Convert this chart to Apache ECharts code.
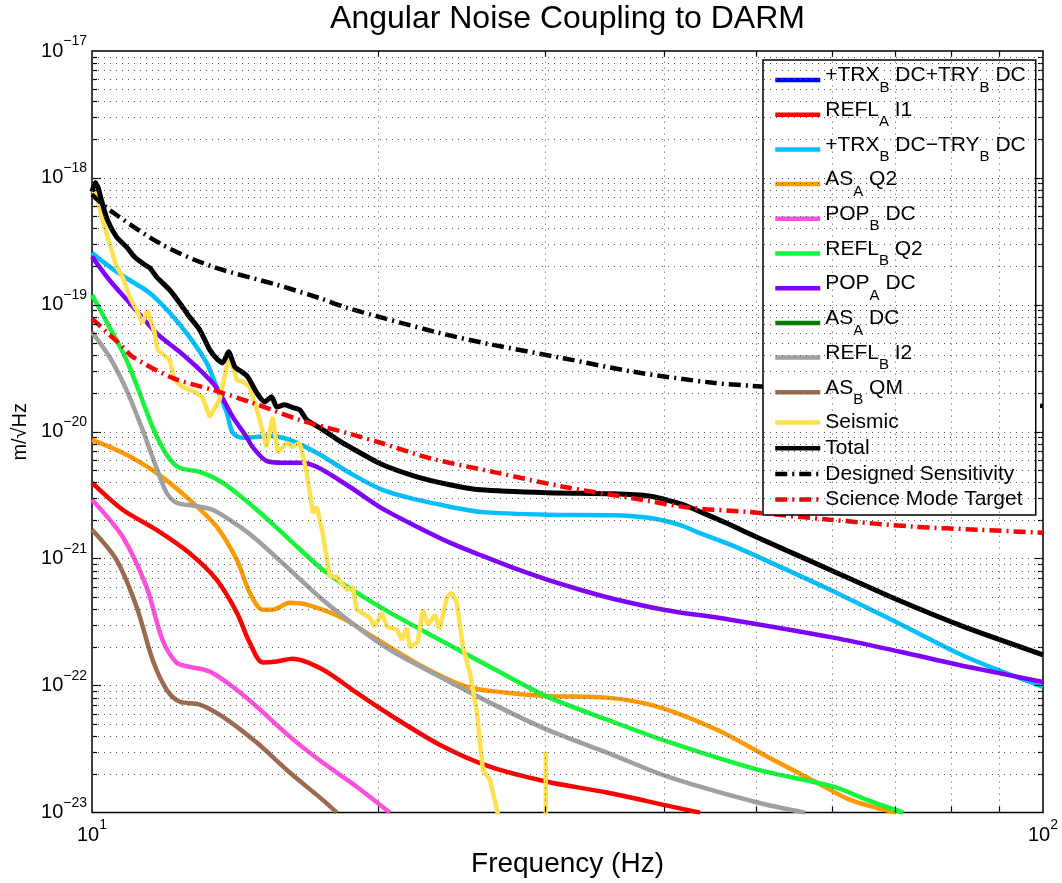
<!DOCTYPE html>
<html><head><meta charset="utf-8">
<script src="https://cdn.jsdelivr.net/npm/echarts@6/dist/echarts.min.js"></script>
<style>html,body{margin:0;padding:0;background:#fff}#chart{width:1062px;height:883px}</style>
</head><body><div id="chart"></div>
<script>
const FONT = '"Liberation Sans", Arial, Helvetica, sans-serif';

// ---- tick labels (decade exponents) ----
const xTickExponents = [1, 2];
const yTickExponents = [-23, -22, -21, -20, -19, -18, -17];
const minorMultipliers = [1, 2, 3, 4, 5, 6, 7, 8, 9];

// ---- series names (legend order) ----
const seriesNames = [
  '+TRX_B DC+TRY_B DC', 'REFL_A I1', '+TRX_B DC\u2212TRY_B DC', 'AS_A Q2', 'POP_B DC',
  'REFL_B Q2', 'POP_A DC', 'AS_A DC', 'REFL_B I2', 'AS_B QM', 'Seismic', 'Total',
  'Designed Sensitivity', 'Science Mode Target'
];

// ---- data: [frequency Hz, m/sqrt(Hz)] ----
const trxPlusTry = [];   // not visible in the plotted range
const asA_DC = [];       // not visible in the plotted range
const reflA_I1 = [[10,3.97e-21],[10.77,2.43e-21],[11.69,1.69e-21],[12.66,1.11e-21],[13.52,6.84e-22],[14.2,3.76e-22],[14.65,2.18e-22],[15.12,1.52e-22],[15.64,1.55e-22],[16.26,1.63e-22],[17.48,1.34e-22],[18.98,8.8e-23],[20.57,5.9e-23],[23.2,3.43e-23],[26.2,2.3e-23],[30.1,1.75e-23],[34.8,1.44e-23],[40.8,1.11e-23],[43.6,1.0e-23]];
const trxMinusTry = [[10,2.57e-19],[10.43,2.0e-19],[10.95,1.57e-19],[11.5,1.24e-19],[12.07,8.65e-20],[12.66,5.6e-20],[13.2,3.49e-20],[13.52,2.26e-20],[13.86,1.41e-20],[14.06,9.8e-21],[14.4,8.97e-21],[14.9,9.1e-21],[15.26,9.3e-21],[16.14,8.65e-21],[17.23,6.84e-21],[18.66,4.75e-21],[20.2,3.49e-21],[21.96,2.92e-21],[23.78,2.57e-21],[25.6,2.34e-21],[30.1,2.22e-21],[35.3,2.2e-21],[38.5,2.1e-21],[41.5,1.85e-21],[43.3,1.62e-21],[46.9,1.29e-21],[50.1,1.04e-21],[59.7,5.7e-22],[70.3,3.13e-22],[82.9,1.69e-22],[100,9.8e-23]];
const asA_Q2 = [[10,8.65e-21],[10.77,6.84e-21],[11.69,4.75e-21],[12.66,2.92e-21],[13.52,1.79e-21],[14.2,9.8e-22],[14.65,5.4e-22],[15.12,3.97e-22],[15.49,3.97e-22],[16.14,4.5e-22],[16.82,4.35e-22],[18.22,3.49e-22],[19.74,2.43e-22],[22.28,1.41e-22],[24.79,9.8e-23],[27.3,8.8e-23],[30.1,8.3e-23],[34.8,8.05e-23],[39.3,6.84e-23],[45.4,4.5e-23],[51.3,2.76e-23],[57.9,1.72e-23],[62.7,1.26e-23],[70.1,1.0e-23]];
const popB_DC = [[10,2.92e-21],[10.77,1.49e-21],[11.41,6.0e-22],[11.86,2.3e-22],[12.27,1.52e-22],[12.66,1.41e-22],[13.3,1.29e-22],[14.06,9.8e-23],[14.9,6.84e-23],[16.14,3.97e-23],[17.48,2.48e-23],[18.98,1.6e-23],[20.57,1.0e-23]];
const reflB_Q2 = [[10,1.2e-19],[10.43,6.7e-20],[10.87,3.69e-20],[11.22,2.03e-20],[11.58,1.09e-20],[11.98,6.6e-21],[12.36,5.2e-21],[12.98,4.84e-21],[13.72,3.97e-21],[14.9,2.43e-21],[16.14,1.41e-21],[17.48,8.2e-22],[18.98,5.4e-22],[20.57,3.76e-22],[23.2,2.3e-22],[26.2,1.41e-22],[30.1,8.2e-23],[34.8,5.4e-23],[40.3,3.62e-23],[50.1,2.18e-23],[60.2,1.6e-23],[65.3,1.26e-23],[71.3,1.0e-23]];
const popA_DC = [[10,2.4e-19],[10.43,1.57e-19],[10.95,1.04e-19],[11.69,6.0e-20],[12.36,4.27e-20],[12.98,3.08e-20],[13.52,2.22e-20],[14.06,1.31e-20],[14.54,9.1e-21],[14.75,7.6e-21],[15.26,5.9e-21],[15.87,5.7e-21],[16.54,5.7e-21],[17.23,5.3e-21],[18.66,3.69e-21],[20.2,2.48e-21],[21.96,1.79e-21],[23.78,1.34e-21],[25.6,1.07e-21],[27.7,8.5e-22],[30.1,6.84e-22],[32.6,5.7e-22],[35.3,4.84e-22],[39.9,3.97e-22],[46.9,3.31e-22],[60.2,2.39e-22],[70.8,1.85e-22],[83.3,1.41e-22],[100,1.07e-22]];
const reflB_I2 = [[10,6.1e-20],[10.43,3.9e-20],[10.87,2.14e-20],[11.3,1.04e-20],[11.69,5.2e-21],[11.98,3.31e-21],[12.27,2.76e-21],[12.82,2.61e-21],[13.39,2.43e-21],[14.3,1.79e-21],[14.9,1.41e-21],[16.14,8.2e-22],[17.48,4.75e-22],[18.98,2.92e-22],[20.57,1.92e-22],[23.2,1.18e-22],[26.2,7.35e-23],[30.1,4.5e-23],[34.8,2.97e-23],[40.3,1.92e-23],[50.1,1.2e-23],[56.2,1.0e-23]];
const asB_QM = [[10,1.69e-21],[10.61,9.8e-22],[11.14,4.19e-22],[11.58,1.6e-22],[11.98,9.3e-23],[12.36,7.5e-23],[12.98,7.1e-23],[13.72,5.7e-23],[14.9,3.56e-23],[16.14,2.07e-23],[17.48,1.26e-23],[18.09,1.0e-23]];
const seismic = [[10,8.05e-19],[10.1,7.6e-19],[10.26,4.67e-19],[10.43,3.08e-19],[10.61,2.0e-19],[10.77,1.66e-19],[10.95,1.16e-19],[11.14,9.1e-20],[11.3,7.2e-20],[11.44,9.1e-20],[11.64,6.0e-20],[11.72,4.42e-20],[12.07,3.69e-20],[12.21,2.57e-20],[12.45,2.26e-20],[12.88,2.03e-20],[13.07,1.85e-20],[13.3,1.31e-20],[13.62,1.79e-20],[13.94,4.0e-20],[14.2,2.57e-20],[14.4,2.48e-20],[14.65,2.26e-20],[15.01,1.24e-20],[15.26,7.6e-21],[15.49,1.31e-20],[15.68,6.84e-21],[16.02,8.2e-21],[16.26,7.6e-21],[16.54,8.2e-21],[16.82,4.75e-21],[17.07,2.3e-21],[17.23,2.57e-21],[17.48,1.6e-21],[17.78,7.2e-22],[18.09,7.2e-22],[18.53,5.7e-22],[18.8,6.0e-22],[18.98,3.97e-22],[19.59,3.43e-22],[19.83,2.92e-22],[20.17,3.76e-22],[20.42,2.92e-22],[20.92,2.76e-22],[21.18,2.3e-22],[21.43,2.86e-22],[21.59,2.0e-22],[22.01,2.22e-22],[22.28,3.97e-22],[22.56,3.02e-22],[22.94,3.62e-22],[23.2,2.76e-22],[23.62,5.0e-22],[23.9,5.4e-22],[24.19,4.5e-22],[24.55,2.03e-22],[24.97,1.26e-22],[25.4,6.1e-23],[25.76,2.18e-23],[26.2,1.82e-23],[26.7,1.0e-23],[26.9,6e-24],[27,null],[30.0,5e-24],[30.0,3.0e-23]];
const total = [[10,7.8e-19],[10.08,9.2e-19],[10.15,8.4e-19],[10.23,6.7e-19],[10.38,4.67e-19],[10.61,3.43e-19],[10.87,2.86e-19],[11.08,2.39e-19],[11.36,2.07e-19],[11.5,1.96e-19],[11.69,1.66e-19],[12.07,1.31e-19],[12.36,1.04e-19],[12.66,8.05e-20],[12.98,6.36e-20],[13.3,4.42e-20],[13.56,3.69e-20],[13.72,3.49e-20],[13.92,4.27e-20],[14.13,3.25e-20],[14.37,2.97e-20],[14.58,2.71e-20],[14.9,2.03e-20],[15.19,1.72e-20],[15.45,1.89e-20],[15.64,1.57e-20],[15.94,1.63e-20],[16.26,1.55e-20],[16.54,1.49e-20],[16.82,1.24e-20],[17.48,1.04e-20],[18.13,8.65e-21],[18.66,7.6e-21],[20.1,5.6e-21],[21.96,4.42e-21],[23.78,3.83e-21],[25.6,3.49e-21],[30.1,3.31e-21],[35.3,3.25e-21],[38.5,3.12e-21],[41.6,2.7e-21],[43.3,2.4e-21],[46.9,1.85e-21],[50.1,1.47e-21],[59.7,8.2e-22],[70.3,4.75e-22],[82.5,2.92e-22],[100,1.75e-22]];
const designedSensitivity = [[10,7.4e-19],[10.43,5.6e-19],[11.86,2.97e-19],[13.39,2.0e-19],[15.64,1.44e-19],[17.36,1.13e-19],[18.53,9.5e-20],[23.2,6.0e-20],[26.2,4.9e-20],[31.3,3.8e-20],[37.1,2.97e-20],[45.0,2.43e-20],[49.5,2.3e-20],[60,2.05e-20],[80,1.75e-20],[100,1.6e-20]];
const scienceModeTarget = [[10,7.8e-20],[10.77,4.67e-20],[11.03,3.9e-20],[12.15,2.66e-20],[13.39,2.14e-20],[14.75,1.69e-20],[16.54,1.24e-20],[18.8,9.5e-21],[20.1,8.2e-21],[22.66,6.2e-21],[26.7,4.75e-21],[31.3,3.69e-21],[36.8,3.02e-21],[42.6,2.52e-21],[48.9,2.34e-21],[59.7,2.03e-21],[73.1,1.79e-21],[85.9,1.69e-21],[100,1.6e-21]];

const seriesData = [trxPlusTry, reflA_I1, trxMinusTry, asA_Q2, popB_DC, reflB_Q2, popA_DC, asA_DC, reflB_I2, asB_QM, seismic, total, designedSensitivity, scienceModeTarget];
const seriesColors = ['#0000FF', '#FF0000', '#00BFFF', '#FF9900', '#FF4FDC', '#14F53C', '#7F00FF', '#007F00', '#A0A0A0', '#9C6A4E', '#FFE04F', '#000000', '#000000', '#FF0000'];

// ECharts' log scale rounds tick values to 10 decimals, so the y values are
// plotted in units of 1e-23 (labels are converted back to the true exponent).
const Y_UNIT_EXP = yTickExponents[0];
const Y_UNIT = Math.pow(10, Y_UNIT_EXP);
const toPlot = d => d.map(p => [p[0], p[1] == null ? null : p[1] / Y_UNIT]);

// ---- layout constants ----
const GRID = {left: 92, top: 51, width: 951, height: 762};
const X_MIN = Math.pow(10, xTickExponents[0]), X_MAX = Math.pow(10, xTickExponents[xTickExponents.length - 1]);
const Y_MIN = 1, Y_MAX = Math.pow(10, yTickExponents[yTickExponents.length - 1] - Y_UNIT_EXP);
const pxPerDecX = GRID.width / (xTickExponents[xTickExponents.length - 1] - xTickExponents[0]);
const pxPerDecY = GRID.height / (yTickExponents[yTickExponents.length - 1] - yTickExponents[0]);

// grid line values (plot units)
const yGridVals = [];
for (let i = 0; i < yTickExponents.length - 1; i++) {
  for (const m of minorMultipliers) {
    if (i === 0 && m === 1) continue;
    yGridVals.push({v: m * Math.pow(10, yTickExponents[i] - Y_UNIT_EXP), major: m === 1});
  }
}
const xGridVals = [];
for (let i = 0; i < xTickExponents.length - 1; i++) {
  for (const m of minorMultipliers) {
    if (m === 1) continue;
    xGridVals.push({v: m * Math.pow(10, xTickExponents[i]), major: false});
  }
}
const gridLineData = yGridVals.map(g => ({yAxis: g.v})).concat(xGridVals.map(g => ({xAxis: g.v})));
const tickData = [];
const xl = X_MIN * 1.000001, xr = X_MAX * 0.999999, yb = Y_MIN * 1.000001, yt = Y_MAX * 0.999999;
yGridVals.forEach(g => {
  const len = g.major ? 9 : 5;
  const f = Math.pow(10, len / pxPerDecX);
  tickData.push([{coord: [xl, g.v]}, {coord: [xl * f, g.v]}]);
  tickData.push([{coord: [xr, g.v]}, {coord: [xr / f, g.v]}]);
});
xGridVals.forEach(g => {
  const len = 6;
  const f = Math.pow(10, len / pxPerDecY);
  tickData.push([{coord: [g.v, yb]}, {coord: [g.v, yb * f]}]);
  tickData.push([{coord: [g.v, yt]}, {coord: [g.v, yt / f]}]);
});

function expText(e) { return '{b|10}{s|' + (e < 0 ? '\u2212' + (-e) : String(e)) + '}'; }
function xLabel(value) { return expText(Math.round(Math.log10(value))); }
function yLabel(value) { return expText(Math.round(Math.log10(value)) + Y_UNIT_EXP); }
function legendLabel(name) {
  return '{b|' + name.replace(/_(\w)/g, '}{s|$1}{b|') + '}';
}

const series = seriesNames.map((name, i) => {
  const s = {
    name: name, type: 'line', data: toPlot(seriesData[i]),
    symbol: 'none', showSymbol: false, smooth: 0.3, connectNulls: false,
    lineStyle: {color: seriesColors[i], width: 4.5},
    itemStyle: {color: seriesColors[i]},
    emphasis: {disabled: true}, z: 2, clip: true
  };
  if (name === 'Seismic') s.smooth = false;
  if (name === 'Total') { s.smooth = 0.2; s.lineStyle.width = 5; }
  if (name === 'Designed Sensitivity' || name === 'Science Mode Target') {
    s.lineStyle.type = [12, 5, 2, 5];
  }
  return s;
});
series.unshift({
  name: '__grid', type: 'line', data: [], z: 1, silent: true,
  markLine: {silent: true, symbol: ['none', 'none'], label: {show: false}, animation: false,
    lineStyle: {color: '#555', width: 1, type: [1, 5]}, emphasis: {disabled: true}, data: gridLineData}
});
series.unshift({
  name: '__ticks', type: 'line', data: [], z: 3, silent: true,
  markLine: {silent: true, symbol: ['none', 'none'], label: {show: false}, animation: false,
    lineStyle: {color: '#000', width: 1.2, type: 'solid'}, emphasis: {disabled: true}, data: tickData}
});

const labelRich = {
  b: {fontFamily: FONT, fontSize: 20, color: '#000'},
  s: {fontFamily: FONT, fontSize: 14, color: '#000', padding: [0, 0, 19, 0]}
};

const chart = echarts.init(document.getElementById('chart'), null, {renderer: 'canvas'});
chart.setOption({
  animation: false,
  backgroundColor: '#fff',
  title: {
    text: 'Angular Noise Coupling to DARM', left: GRID.left + GRID.width / 2, top: 3, textAlign: 'center', padding: 0,
    textStyle: {fontFamily: FONT, fontSize: 32, fontWeight: 'normal', color: '#000'}
  },
  grid: {left: GRID.left, top: GRID.top, width: GRID.width, height: GRID.height, show: true,
    borderColor: '#000', borderWidth: 1.5, backgroundColor: 'transparent', containLabel: false},
  xAxis: {
    type: 'log', logBase: 10, min: X_MIN, max: X_MAX,
    name: 'Frequency (Hz)', nameLocation: 'middle', nameGap: 33,
    nameTextStyle: {fontFamily: FONT, fontSize: 28, color: '#000'},
    axisLine: {show: false}, axisTick: {show: false}, splitLine: {show: false}, minorTick: {show: false},
    axisLabel: {margin: 6, color: '#000', formatter: xLabel, rich: labelRich}
  },
  yAxis: {
    type: 'log', logBase: 10, min: Y_MIN, max: Y_MAX,
    name: 'm/\u221AHz', nameLocation: 'middle', nameGap: 61, nameRotate: 90,
    nameTextStyle: {fontFamily: FONT, fontSize: 20, color: '#000'},
    axisLine: {show: false}, axisTick: {show: false}, splitLine: {show: false}, minorTick: {show: false},
    axisLabel: {margin: 5, color: '#000', formatter: yLabel, rich: labelRich}
  },
  legend: {
    data: seriesNames, orient: 'vertical', left: 763, top: 60,
    padding: [5, 10, 5, 10], itemGap: 4.7, itemWidth: 45, itemHeight: 12,
    backgroundColor: '#fff', borderColor: '#000', borderWidth: 1.5, borderRadius: 0,
    selectedMode: false,
    itemStyle: {opacity: 0},
    lineStyle: {width: 4.5},
    formatter: legendLabel,
    textStyle: {
      fontFamily: FONT, fontSize: 21, color: '#000',
      rich: {
        b: {fontFamily: FONT, fontSize: 21, color: '#000', verticalAlign: 'top'},
        s: {fontFamily: FONT, fontSize: 15, color: '#000', padding: [15, 0, 0, 0]}
      }
    }
  },
  series: series
});
</script>
</body></html>
